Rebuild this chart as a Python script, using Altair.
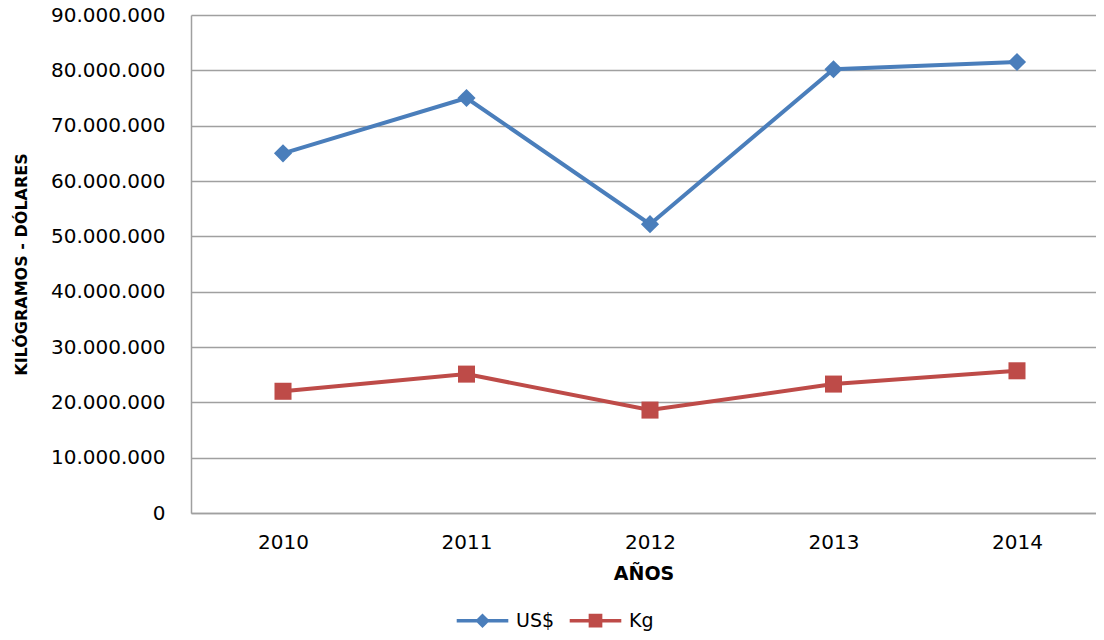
import altair as alt
import pandas as pd

years = ["2010", "2011", "2012", "2013", "2014"]
usd = [65000000, 75000000, 52200000, 80200000, 81500000]
kg = [22000000, 25100000, 18600000, 23300000, 25700000]
series_names = ["US$", "Kg"]
series_colors = ["#4a7ebb", "#be4b48"]
y_ticks = [0, 10000000, 20000000, 30000000, 40000000, 50000000, 60000000, 70000000, 80000000, 90000000]

rows = []
for i, yr in enumerate(years):
    rows.append({"year": yr, "series": "US$", "value": usd[i]})
    rows.append({"year": yr, "series": "Kg", "value": kg[i]})
df = pd.DataFrame(rows)

FONT = "DejaVu Sans"
label_expr = "replace(replace(replace(format(datum.value, ','), ',', '.'), ',', '.'), ',', '.')"

x_enc = alt.X(
    "year:O",
    scale=alt.Scale(type="point", domain=years, padding=0.466, align=0.538),
    axis=alt.Axis(
        title="AÑOS", labelAngle=0, ticks=False, grid=False,
        domainColor="#a0a0a0", domainWidth=1.5,
        labelFont=FONT, labelFontSize=20, labelColor="#000000", labelPadding=19,
        titleFont=FONT, titleFontSize=19, titleFontWeight="bold", titleColor="#000000",
        titlePadding=12,
    ),
)
y_enc = alt.Y(
    "value:Q",
    scale=alt.Scale(domain=[0, 90000000], nice=False, zero=True),
    axis=alt.Axis(
        title="KILÓGRAMOS - DÓLARES", values=y_ticks, labelExpr=label_expr,
        ticks=False, grid=True, gridColor="#a0a0a0", gridWidth=1.5,
        domainColor="#a0a0a0", domainWidth=1.5,
        labelFont=FONT, labelFontSize=20, labelColor="#000000", labelPadding=26,
        titleFont=FONT, titleFontSize=16, titleFontWeight="bold", titleColor="#000000",
        titlePadding=21,
    ),
)
color_scale = alt.Scale(domain=series_names, range=series_colors)

legend_paths = [
    "M-4.3,0L4.3,0M0,-0.8L0.8,0L0,0.8L-0.8,0ZM0,-0.3L0.3,0L0,0.3L-0.3,0Z",
    "M-4.3,0L4.3,0M-0.85,-0.85L0.85,-0.85L0.85,0.85L-0.85,0.85ZM-0.3,-0.3L0.3,-0.3L0.3,0.3L-0.3,0.3ZM-0.05,0L0.05,0",
]
leg = alt.Legend(
    title=None, orient="none", direction="horizontal", legendX=282, legendY=596,
    symbolSize=144, symbolStrokeWidth=3.5, symbolOpacity=1, labelFont=FONT, labelFontSize=19,
    labelColor="#000000", labelOffset=24, columnPadding=7,
)

base = alt.Chart(df)
legend_layer = base.mark_point(filled=False, opacity=0).encode(
    x=x_enc, y=y_enc,
    color=alt.Color("series:N", scale=color_scale, legend=leg),
    shape=alt.Shape("series:N", scale=alt.Scale(domain=series_names, range=legend_paths), legend=leg),
)
lines = base.mark_line(strokeWidth=4).encode(
    x=x_enc, y=y_enc, color=alt.Color("series:N", scale=color_scale)
)
pts_usd = base.transform_filter(alt.datum.series == "US$").mark_point(
    shape="diamond", filled=True, size=330, opacity=1
).encode(x=x_enc, y=y_enc, color=alt.Color("series:N", scale=color_scale))
pts_kg = base.transform_filter(alt.datum.series == "Kg").mark_point(
    shape="square", filled=True, size=290, opacity=1
).encode(x=x_enc, y=y_enc, color=alt.Color("series:N", scale=color_scale))

chart = alt.layer(legend_layer, lines, pts_usd, pts_kg).properties(
    width=905, height=498,
    autosize=alt.AutoSizeParams(type="none"),
    padding={"left": 183, "top": 7, "right": 0, "bottom": 118},
).configure_view(strokeWidth=0)

chart.save("out.html", embed_options={"renderer": "svg", "actions": False})
